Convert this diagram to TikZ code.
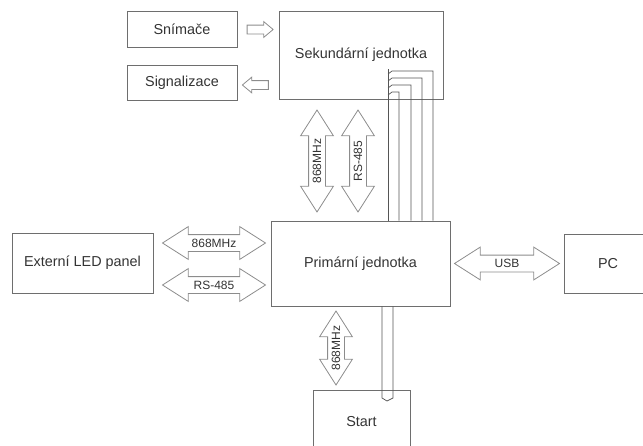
\documentclass[tikz,border=0pt]{standalone}
\usepackage{fontspec}
\setmainfont{Liberation Sans}
\usetikzlibrary{shapes.arrows,calc}
\definecolor{boxc}{HTML}{6E6E6E}
\definecolor{arrc}{HTML}{8C8C8C}
\definecolor{txtc}{HTML}{333333}
\definecolor{wirec}{HTML}{555555}
\begin{document}
\begin{tikzpicture}[x=1pt,y=-1pt,
  blk/.style={draw=boxc, line width=0.8pt, text=txtc, font=\fontsize{14.4}{17}\selectfont, inner sep=0pt},
  bigarr/.style={double arrow, draw=arrc, line width=0.8pt, double arrow head extend=8pt, double arrow tip angle=65, inner xsep=0pt, inner ysep=8pt, minimum width=0pt},
  smallarr/.style={single arrow, draw=arrc, line width=0.8pt, single arrow head extend=3.5pt, single arrow tip angle=80, inner xsep=0pt, inner ysep=4pt, minimum width=0pt, minimum height=26pt},
  lbl/.style={text=txtc, font=\fontsize{12}{12}\selectfont, inner sep=0pt},
  wire/.style={draw=wirec, line width=0.7pt}]
\useasboundingbox (0,0) rectangle (643,445);
% boxes
\node[blk, minimum width=110pt, minimum height=36pt] (snim) at (182,29) {Snímače};
\node[blk, minimum width=110pt, minimum height=35pt] (sig) at (182,82.5) {Signalizace};
\node[blk, minimum width=164pt, minimum height=88pt] (sek) at (361,55) {Sekundární jednotka};
\node[blk, minimum width=179pt, minimum height=85pt] (prim) at (360.5,263.5) {Primární jednotka};
\node[blk, minimum width=141pt, minimum height=60pt] (ext) at (82.5,263) {Externí LED panel};
\node[blk, minimum width=88pt, minimum height=59pt] (pc) at (608,263.5) {PC};
\node[blk, minimum width=97pt, minimum height=64pt] (start) at (361.5,422) {Start};
% small arrows
\node[smallarr] (a1) at (257.5,29.5) {};
\node[smallarr, shape border rotate=180] (a2) at (258,85) {};
% big arrows
\node[bigarr, rotate=90, minimum height=102pt] (v1) at (317,161) {};
\node[lbl, rotate=90] (v1l) at (v1.center) {868MHz};
\node[bigarr, rotate=90, minimum height=102pt] (v2) at (358,161) {};
\node[lbl, rotate=90] (v2l) at (v2.center) {RS-485};
\node[bigarr, minimum height=103pt] (h1) at (214,243) {};
\node[lbl] (h1l) at (h1.center) {868MHz};
\node[bigarr, minimum height=103pt] (h2) at (214,285) {};
\node[lbl] (h2l) at (h2.center) {RS-485};
\node[bigarr, minimum height=105pt] (h3) at ($(prim.east)!0.5!(pc.west)$) {};
\node[lbl] (h3l) at (h3.center) {USB};
\node[bigarr, rotate=90, minimum height=74pt] (v3) at (336,348) {};
\node[lbl, rotate=90] (v3l) at (v3.center) {868MHz};
% wires secondary -> primary
\coordinate (w0) at (388,69);
\coordinate (w1) at (433,71);
\coordinate (w2) at (422,78);
\coordinate (w3) at (411,85);
\coordinate (w4) at (399,92);
\draw[wire] (w0) -- (w0 |- prim.north);
\draw[wire] (388,74) -- (392,71) -- (w1) -- (w1 |- prim.north);
\draw[wire] (388,81) -- (392,78) -- (w2) -- (w2 |- prim.north);
\draw[wire] (388,88) -- (392,85) -- (w3) -- (w3 |- prim.north);
\draw[wire] (388,95) -- (392,92) -- (w4) -- (w4 |- prim.north);
% wires primary -> start
\coordinate (s1) at (382,398);
\coordinate (s2) at (393,398);
\draw[wire] (s1 |- prim.south) -- (s1) -- (387,401) -- (s2) -- (s2 |- prim.south);
\end{tikzpicture}
\end{document}
